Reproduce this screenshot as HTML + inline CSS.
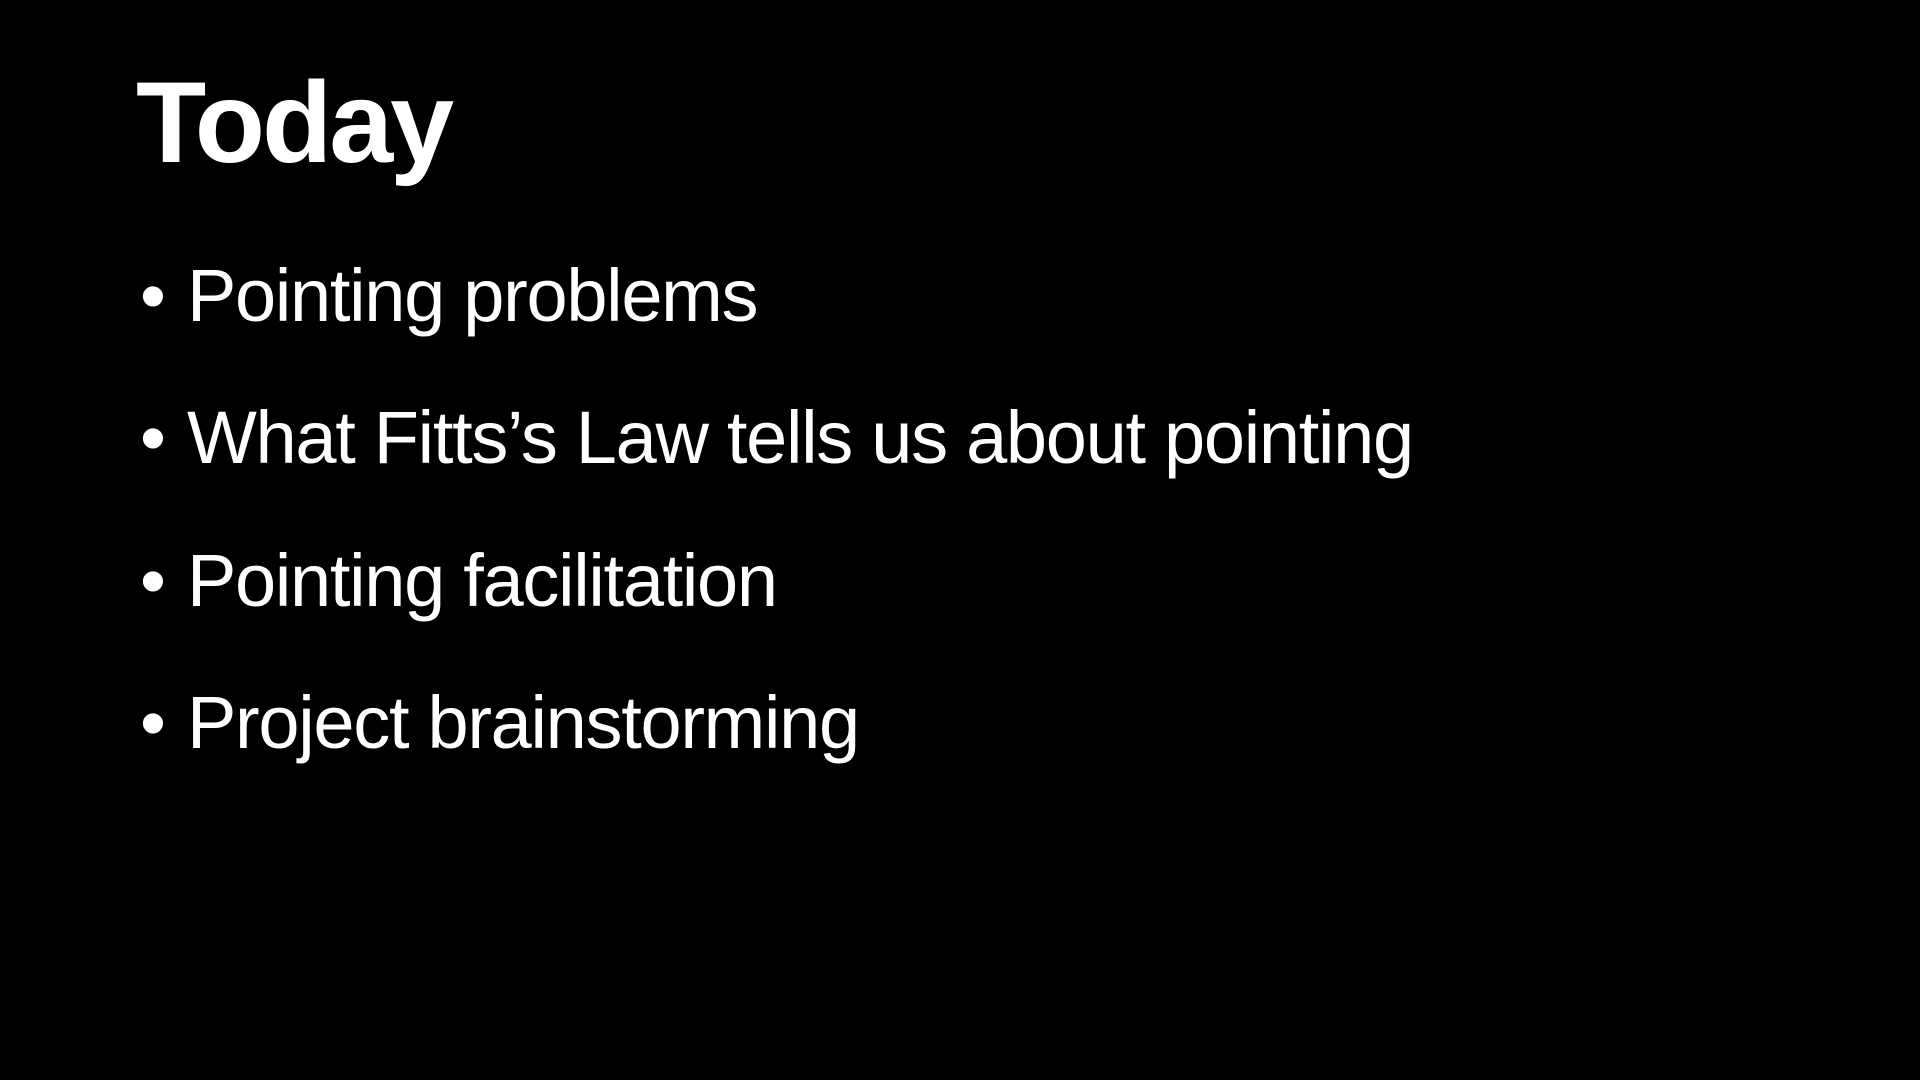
<!DOCTYPE html>
<html>
<head>
<meta charset="utf-8">
<style>
  html,body{margin:0;padding:0;background:#000;}
  body{width:1920px;height:1080px;position:relative;overflow:hidden;font-family:"Liberation Sans",Arial,sans-serif;color:#fff;}
  .t{position:absolute;left:136px;top:66px;font-size:115px;font-weight:bold;line-height:1;white-space:nowrap;letter-spacing:-3px;}
  .b{position:absolute;left:140px;font-size:74px;line-height:1;white-space:nowrap;}
  .b span{position:absolute;left:47px;letter-spacing:-1.3px;}
</style>
</head>
<body>
  <div class="t">Today</div>
  <div class="b" style="top:259px">•<span>Pointing problems</span></div>
  <div class="b" style="top:401px">•<span>What Fitts’s Law tells us about pointing</span></div>
  <div class="b" style="top:544px">•<span>Pointing facilitation</span></div>
  <div class="b" style="top:686px">•<span>Project brainstorming</span></div>
</body>
</html>
